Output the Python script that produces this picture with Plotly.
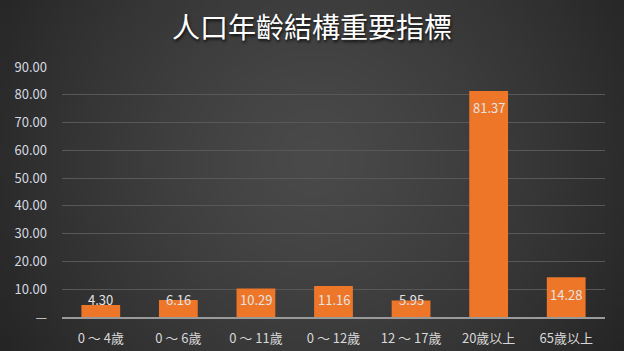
import base64, struct, zlib, math
import plotly.graph_objects as go

categories = ["0 ～ 4歲", "0 ～ 6歲", "0 ～ 11歲", "0 ～ 12歲", "12 ～ 17歲", "20歲以上", "65歲以上"]
values = [4.30, 6.16, 10.29, 11.16, 5.95, 81.37, 14.28]
tick_vals = [0, 10, 20, 30, 40, 50, 60, 70, 80, 90]
tick_text = ["—", "10.00", "20.00", "30.00", "40.00", "50.00", "60.00", "70.00", "80.00", "90.00"]
title_text = "人口年齡結構重要指標"

W, H = 624, 351
ML, MR, MT, MB = 62, 19, 67, 34


def radial_png(w, h):
    rows = []
    cx, cy = w * 0.5, h * 0.45
    rmax = math.hypot(w * 0.5, h * 0.55)
    for y in range(h):
        row = bytearray([0])
        for x in range(w):
            d = math.hypot(x - cx, (y - cy) * 1.0) / rmax
            d = min(d, 1.0)
            c = int(74 - (74 - 37) * (d ** 1.3))
            row += bytes([c, c, c])
        rows.append(bytes(row))
    raw = b"".join(rows)

    def chunk(t, data):
        c = struct.pack(">I", len(data)) + t + data
        return c + struct.pack(">I", zlib.crc32(t + data) & 0xffffffff)

    png = b"\x89PNG\r\n\x1a\n"
    png += chunk(b"IHDR", struct.pack(">IIBBBBB", w, h, 8, 2, 0, 0, 0))
    png += chunk(b"IDAT", zlib.compress(raw, 9))
    png += chunk(b"IEND", b"")
    return "data:image/png;base64," + base64.b64encode(png).decode()


pw = W - ML - MR
ph = H - MT - MB

fig = go.Figure()
fig.add_trace(go.Bar(
    x=categories, y=values,
    marker=dict(color="#ed7628", line=dict(width=0)),
    hoverinfo="skip",
))

for c, v in zip(categories, values):
    fig.add_annotation(
        x=c, y=max(v - 6, 6.2), text=f"{v:.2f}", showarrow=False,
        yanchor="middle", xanchor="center",
        font=dict(family="Noto Sans CJK TC", size=13, color="#e6e2e2"),
    )

fig.add_layout_image(dict(
    source=radial_png(156, 88), xref="paper", yref="paper",
    x=-ML / pw, y=1 + MT / ph, sizex=W / pw, sizey=H / ph,
    xanchor="left", yanchor="top", sizing="stretch", layer="below",
))

fig.update_layout(
    width=W, height=H,
    margin=dict(l=ML, r=MR, t=MT, b=MB, autoexpand=False),
    paper_bgcolor="#333333", plot_bgcolor="rgba(0,0,0,0)",
    bargap=0.5,
    showlegend=False,
    title=dict(
        text=title_text, x=0.5, xanchor="center", y=1 - 28 / H, yanchor="middle",
        font=dict(family="Noto Sans CJK TC", size=28, color="#ffffff",
                  shadow="1px 2px 3px rgba(0,0,0,0.8)"),
    ),
    xaxis=dict(
        showgrid=False, showline=True, linecolor="#9a9a9a", linewidth=2,
        ticks="", tickfont=dict(family="Noto Sans CJK TC", size=13, color="#d8d8d8"),
        ticklabelstandoff=8, zeroline=False, fixedrange=True, automargin=False,
    ),
    yaxis=dict(
        range=[0, 90], tickvals=tick_vals, ticktext=tick_text,
        showgrid=True, gridcolor="#585858", gridwidth=1, zeroline=False,
        showline=False, ticks="",
        tickfont=dict(family="Noto Sans CJK TC", size=13, color="#d4d8e0"),
        ticklabelstandoff=14, fixedrange=True, automargin=False,
    ),
)

fig.write_html("out.html")
